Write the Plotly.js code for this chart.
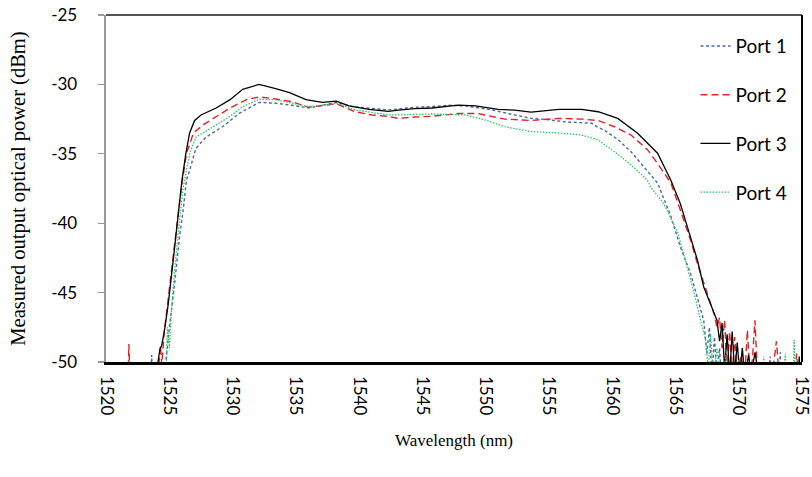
<!DOCTYPE html>
<html>
<head>
<meta charset="utf-8">
<script src="https://cdn.plot.ly/plotly-3.0.1.min.js"></script>
<style>html,body{margin:0;padding:0;background:#fff}#chart{width:812px;height:477px}</style>
</head>
<body>
<div id="chart"></div>
<script>
// Port 1 (blue, short dash)
const wl1 = [1520, 1523.5, 1523.6, 1523.7, 1524.5, 1524.7, 1525.0, 1525.4, 1525.8, 1526.1, 1526.35, 1526.6, 1527.1, 1527.9, 1529.2, 1530.5, 1532.1, 1533.4, 1534.7, 1536.0, 1537.1, 1538.2, 1539.5, 1540.8, 1542.3, 1543.1, 1544.4, 1545.75, 1547.0, 1548.4, 1550.5, 1552.3, 1553.6, 1555.0, 1556.3, 1558.4, 1558.9, 1559.4, 1560.5, 1561.5, 1562.8, 1563.6, 1564.65, 1565.4, 1566.2, 1566.75, 1567.25, 1567.5, 1567.7, 1567.9, 1568.1, 1568.3, 1568.5, 1568.7, 1569.0, 1569.3, 1572.3, 1572.5, 1572.7, 1573.2, 1573.3, 1573.4, 1575];
const p1 = [-52, -52, -49.5, -52, -52, -50, -47.5, -44.5, -41.0, -39.0, -36.9, -36.2, -34.6, -33.8, -33.05, -32.1, -31.3, -31.36, -31.5, -31.7, -31.5, -31.3, -31.6, -31.7, -31.84, -31.77, -31.65, -31.6, -31.5, -31.55, -31.84, -32.2, -32.45, -32.55, -32.7, -32.8, -33.1, -33.3, -34.0, -34.85, -36.2, -37.1, -39.5, -41.7, -43.6, -45.3, -47.0, -49.4, -47.5, -51, -48.2, -51, -49, -52, -50.3, -52, -52, -49.6, -52, -52, -49.3, -52, -52];

// Port 2 (red, long dash)
const wl2 = [1520, 1521.7, 1521.8, 1521.9, 1524.0, 1524.2, 1524.3, 1524.4, 1524.6, 1524.9, 1525.3, 1525.6, 1525.95, 1526.35, 1526.9, 1527.7, 1528.7, 1529.8, 1531.1, 1532.1, 1533.4, 1534.7, 1536.0, 1537.1, 1538.2, 1539.7, 1541.0, 1542.3, 1543.1, 1544.4, 1545.75, 1547.85, 1549.4, 1551.5, 1553.6, 1555.8, 1557.6, 1558.9, 1560.2, 1561.5, 1562.8, 1563.6, 1564.65, 1565.4, 1566.2, 1566.75, 1567.5, 1568.05, 1568.3, 1568.5, 1568.7, 1568.9, 1569.1, 1569.3, 1569.5, 1569.7, 1569.9, 1570.2, 1570.5, 1570.7, 1570.9, 1571.1, 1571.3, 1571.5, 1571.8, 1572.2, 1572.8, 1573.0, 1573.2, 1573.6, 1574.4, 1574.6, 1574.8, 1575];
const p2 = [-52, -52, -48.7, -52, -52, -50, -48.8, -50.2, -47.8, -45.5, -42.3, -39.8, -37.4, -35.0, -33.5, -32.9, -32.3, -31.7, -31.1, -30.9, -31.05, -31.25, -31.65, -31.55, -31.4, -31.97, -32.2, -32.3, -32.45, -32.35, -32.3, -32.1, -32.1, -32.5, -32.6, -32.45, -32.5, -32.6, -33.05, -33.65, -34.7, -35.7, -37.1, -39.05, -41.2, -42.9, -45.05, -46.5, -47.5, -46.8, -49, -47.0, -50.5, -47.8, -51, -48.2, -51, -49.5, -51, -47.7, -51, -49.8, -47.0, -51, -50.5, -52, -50, -48.5, -51, -52, -51, -49.4, -52, -52];

// Port 3 (black, solid)
const wl3 = [1520, 1522, 1524, 1524.1, 1524.25, 1524.4, 1524.65, 1524.9, 1525.3, 1525.6, 1525.8, 1526.0, 1526.3, 1526.6, 1527.0, 1527.5, 1528.7, 1529.8, 1530.8, 1532.1, 1533.4, 1534.5, 1535.8, 1537.1, 1538.2, 1539.2, 1540.8, 1542.3, 1543.1, 1544.4, 1545.75, 1547.85, 1549.2, 1551.0, 1552.3, 1553.6, 1555.8, 1557.6, 1558.9, 1560.45, 1562.0, 1563.6, 1564.65, 1565.4, 1566.1, 1566.75, 1567.25, 1567.9, 1568.3, 1568.5, 1568.7, 1568.9, 1569.1, 1569.3, 1569.5, 1569.7, 1569.9, 1570.1, 1570.3, 1570.5, 1570.8, 1571.0, 1571.3, 1571.6, 1572, 1574.7, 1574.8, 1574.9, 1575];
const p3 = [-52, -52, -51.5, -50, -49.1, -48.8, -47.5, -45.9, -42.7, -40.0, -38.3, -36.9, -35.0, -33.5, -32.6, -32.2, -31.7, -31.1, -30.35, -30.0, -30.3, -30.6, -31.1, -31.3, -31.2, -31.55, -31.8, -31.95, -31.85, -31.75, -31.7, -31.5, -31.55, -31.8, -31.85, -32.0, -31.8, -31.8, -31.97, -32.45, -33.5, -34.96, -36.9, -38.6, -40.7, -42.65, -44.6, -46.0, -47.0, -48.5, -47.2, -50.5, -48.0, -51, -47.8, -50.8, -48.6, -51, -49.0, -51, -49.5, -51, -49.3, -51, -52, -52, -49.6, -52, -52];

// Port 4 (green, dotted)
const wl4 = [1520, 1524.7, 1524.85, 1525.0, 1525.15, 1525.4, 1525.8, 1526.1, 1526.6, 1527.1, 1528.2, 1529.1, 1529.8, 1530.8, 1532.1, 1533.4, 1534.7, 1536.0, 1537.1, 1538.2, 1539.7, 1542.3, 1543.1, 1545.75, 1548.4, 1549.95, 1551.5, 1553.6, 1555.8, 1557.6, 1558.9, 1560.2, 1561.5, 1562.8, 1563.05, 1564.1, 1565.2, 1565.95, 1566.5, 1567.0, 1567.4, 1567.6, 1567.8, 1568.0, 1568.3, 1568.6, 1569.0, 1569.2, 1569.8, 1570.0, 1570.2, 1571.9, 1572.0, 1572.1, 1573.5, 1573.7, 1573.8, 1574.3, 1574.4, 1574.5, 1575];
const p4 = [-50.3, -52, -47.5, -49, -46.5, -43.5, -39.8, -37.4, -35.0, -33.8, -33.2, -32.7, -32.3, -31.6, -31.07, -31.1, -31.36, -31.6, -31.5, -31.36, -31.84, -32.2, -32.2, -32.13, -32.2, -32.56, -33.05, -33.4, -33.5, -33.65, -34.0, -34.85, -35.8, -36.9, -37.4, -38.6, -40.7, -43.1, -45.05, -47.0, -48.4, -50.5, -48, -51, -49, -52, -49.5, -52, -52, -49.8, -52, -52, -49.6, -52, -52, -49.4, -52, -52, -48.4, -52, -52];

const names = ['Port 1', 'Port 2', 'Port 3', 'Port 4'];
const xTicks = [1520, 1525, 1530, 1535, 1540, 1545, 1550, 1555, 1560, 1565, 1570, 1575];
const yTicks = [-50, -45, -40, -35, -30, -25];

const traces = [
  {x: wl1, y: p1, name: names[0], legendgroup: 'a', line: {color: '#4a6aa5', width: 1.4, dash: '3px,2.5px'}},
  {x: wl2, y: p2, name: names[1], legendgroup: 'b', line: {color: '#e0222a', width: 1.4, dash: '7px,4px'}},
  {x: wl3, y: p3, name: names[2], legendgroup: 'c', line: {color: '#000000', width: 1.3}},
  {x: wl4, y: p4, name: names[3], legendgroup: 'd', line: {color: '#2ec46a', width: 1.3, dash: '1.5px,1.5px'}}
].map(t => Object.assign({type: 'scatter', mode: 'lines'}, t));

const pad = '\u00a0\u00a0\u00a0\u00a0';

const layout = {
  width: 812, height: 477,
  margin: {l: 106, r: 10, t: 15, b: 115},
  paper_bgcolor: '#fff', plot_bgcolor: '#fff',
  showlegend: true,
  legend: {
    x: 0.847, y: 0.965, xanchor: 'left', yanchor: 'top',
    traceorder: 'grouped', tracegroupgap: 21,
    font: {family: 'Lato, "Open Sans", sans-serif', size: 19, color: '#000'},
    bgcolor: 'rgba(0,0,0,0)'
  },
  xaxis: {
    range: [1519.99, 1575.02], tickvals: xTicks, ticktext: xTicks.map(String),
    tickangle: 90, ticks: '', showgrid: false, zeroline: false,
    showline: true, linecolor: '#000', linewidth: 2.5,
    ticklabelstandoff: 8, ticklabeloverflow: 'allow',
    tickfont: {family: 'Lato, "Open Sans", sans-serif', size: 17, color: '#000'},
    title: {text: 'Wavelength (nm)', font: {family: '"Liberation Serif", serif', size: 17, color: '#000'}, standoff: 20}
  },
  yaxis: {
    range: [-50, -25], tickvals: yTicks, ticktext: yTicks.map(v => String(v) + pad),
    ticks: 'outside', ticklen: 6, tickcolor: '#999', tickwidth: 1.3,
    showgrid: false, zeroline: false,
    showline: true, linecolor: '#999', linewidth: 2,
    tickfont: {family: 'Lato, "Open Sans", sans-serif', size: 17, color: '#000'},
    title: {text: 'Measured output optical power (dBm)', font: {family: '"Liberation Serif", serif', size: 20.5, color: '#000'}, standoff: 20}
  },
  shapes: [
    {type: 'line', xref: 'paper', yref: 'paper', x0: 0, x1: 1, y0: 1, y1: 1, line: {color: '#555', width: 2}},
    {type: 'line', xref: 'paper', yref: 'paper', x0: 1, x1: 1, y0: 0, y1: 1, line: {color: '#000', width: 2}}
  ]
};

Plotly.newPlot('chart', traces, layout, {displayModeBar: false, staticPlot: true});
</script>
</body>
</html>
